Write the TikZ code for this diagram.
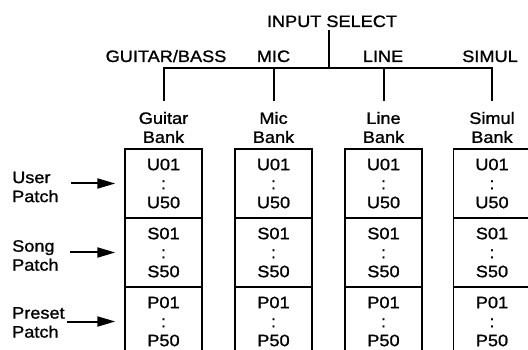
\documentclass[tikz,border=0pt]{standalone}
\usepackage{fontspec}
\setmainfont{Liberation Sans}[FakeStretch=1.1, FakeBold=1.2]
\usepackage{tikz}
\usetikzlibrary{arrows.meta}

\begin{document}
\begin{tikzpicture}[x=1pt, y=-1pt,
  every node/.style={font=\fontsize{16.5}{19}\selectfont},
  lead/.style={line width=2pt},
  selname/.style={anchor=base, inner sep=3pt},
  bankname/.style={align=center, inner sep=0pt},
  patchbox/.style={draw, line width=1.4pt, minimum width=77pt, minimum height=69pt, align=center, inner sep=0pt},
  sidename/.style={align=left, anchor=west, inner sep=0pt},
  patcharrow/.style={line width=2pt, -{Triangle[length=18pt,width=10pt]}, shorten >=9pt}]
\useasboundingbox (0,0) rectangle (528,350);
\clip (0,0) rectangle (528,350);
% Input select and the four inputs
\node[selname] (insel) at (332,27) {INPUT SELECT};
\node[selname] (gbsel) at (166,62) {GUITAR/BASS};
\node[selname] (micsel) at (273.5,62) {MIC};
\node[selname] (linesel) at (383,62) {LINE};
\node[selname] (simsel) at (490,62) {SIMUL};
\coordinate (hub) at (329,68);
\coordinate (gdrop) at (163.5,68);
\coordinate (mdrop) at (273.5,68);
\coordinate (ldrop) at (383.5,68);
\coordinate (sdrop) at (492,68);
% Bank names
\node[bankname] (gbank) at (163.5,127.5) {Guitar\\Bank};
\node[bankname] (mbank) at (273.5,127.5) {Mic\\Bank};
\node[bankname] (lbank) at (383.5,127.5) {Line\\Bank};
\node[bankname] (sbank) at (492,127.5) {Simul\\Bank};
% Tree lines
\draw[lead] (insel.south -| hub) -- (hub);
\draw[lead, shorten <=11pt, shorten >=11pt] (gdrop |- gbank.north) -- (gdrop) -- (sdrop) -- (sdrop |- sbank.north);
\draw[lead, shorten >=11pt] (mdrop) -- (mdrop |- mbank.north);
\draw[lead, shorten >=11pt] (ldrop) -- (ldrop |- lbank.north);
% Guitar bank
\node[patchbox] (gu) at (163.5,183.5) {U01\\:\\U50};
\node[patchbox] (gs) at (163.5,252.5) {S01\\:\\S50};
\node[patchbox] (gp) at (163.5,321.5) {P01\\:\\P50};
% Mic bank
\node[patchbox] (mu) at (273.5,183.5) {U01\\:\\U50};
\node[patchbox] (ms) at (273.5,252.5) {S01\\:\\S50};
\node[patchbox] (mp) at (273.5,321.5) {P01\\:\\P50};
% Line bank
\node[patchbox] (lu) at (383.5,183.5) {U01\\:\\U50};
\node[patchbox] (ls) at (383.5,252.5) {S01\\:\\S50};
\node[patchbox] (lp) at (383.5,321.5) {P01\\:\\P50};
% Simul bank
\node[patchbox] (su) at (492,183.5) {U01\\:\\U50};
\node[patchbox] (ss) at (492,252.5) {S01\\:\\S50};
\node[patchbox] (sp) at (492,321.5) {P01\\:\\P50};
% Patch kinds
\node[sidename] (user) at (12,187) {User\\Patch};
\node[sidename] (song) at (12,255.5) {Song\\Patch};
\node[sidename] (preset) at (12,322.5) {Preset\\Patch};
\coordinate (utail) at (71,183.5);
\coordinate (stail) at (70,252.5);
\coordinate (ptail) at (67,321.5);
\draw[patcharrow] (utail) -- (gu);
\draw[patcharrow] (stail) -- (gs);
\draw[patcharrow] (ptail) -- (gp);
\end{tikzpicture}
\end{document}
